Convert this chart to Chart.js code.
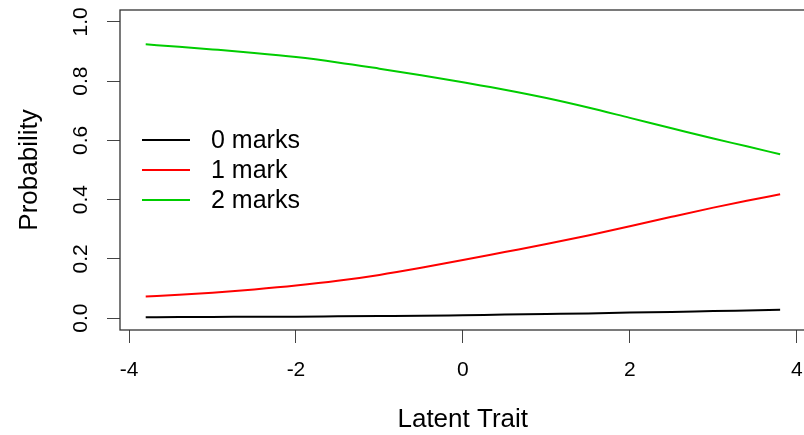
<!DOCTYPE html>
<html>
<head>
  <meta charset="utf-8" />
  <title>Category probability curves</title>
  <style>
    html, body { margin: 0; padding: 0; background: #fff; overflow: hidden; }
    #wrap { width: 808px; height: 435px; }
  </style>
  <script src="https://cdn.jsdelivr.net/npm/chart.js"></script>
</head>
<body>
  <div id="wrap"><canvas id="chart" width="808" height="435"></canvas></div>
  <script>
    // latent trait values where the curves were read
    const theta = [-3.8, -3.4, -3.0, -2.5, -2.0, -1.5, -1.0, -0.5, 0, 0.5, 1.0, 1.5, 2.0, 2.5, 3.0, 3.4, 3.8];
    const marks0 = [0.003, 0.004, 0.004, 0.005, 0.005, 0.006, 0.007, 0.008, 0.010, 0.012, 0.014, 0.016, 0.019, 0.021, 0.024, 0.026, 0.028];
    const marks1 = [0.073, 0.079, 0.086, 0.097, 0.110, 0.126, 0.146, 0.170, 0.196, 0.223, 0.250, 0.279, 0.310, 0.342, 0.373, 0.396, 0.418];
    const marks2 = [0.924, 0.916, 0.907, 0.895, 0.881, 0.863, 0.842, 0.820, 0.796, 0.771, 0.743, 0.711, 0.676, 0.641, 0.606, 0.580, 0.553];
    const seriesNames = ['0 marks', '1 mark', '2 marks'];
    const seriesColors = ['#000000', '#ff0000', '#00cd00'];
    const xTicks = [-4, -2, 0, 2, 4];
    const yTicks = [0, 0.2, 0.4, 0.6, 0.8, 1.0];

    const FONT = "'Liberation Sans', Arial, sans-serif";

    function pts(ys) { return theta.map((t, i) => ({ x: t, y: ys[i] })); }

    // frame around the plot region, like R's box()
    const boxPlugin = {
      id: 'box',
      afterDraw(chart) {
        const a = chart.chartArea, ctx = chart.ctx;
        ctx.save();
        ctx.strokeStyle = '#333';
        ctx.lineWidth = 1.3;
        ctx.strokeRect(a.left, a.top, a.right - a.left, a.bottom - a.top);
        ctx.restore();
      }
    };

    // legend inside the plot, no box
    const insideLegend = {
      id: 'insideLegend',
      afterDraw(chart) {
        const ctx = chart.ctx;
        ctx.save();
        ctx.font = '25px ' + FONT;
        ctx.textBaseline = 'middle';
        ctx.fillStyle = '#000';
        chart.data.datasets.forEach((ds, i) => {
          const y = 140 + i * 30;
          ctx.strokeStyle = ds.borderColor;
          ctx.lineWidth = 2;
          ctx.beginPath();
          ctx.moveTo(142, y);
          ctx.lineTo(190, y);
          ctx.stroke();
          ctx.fillText(ds.label, 211, y + 1);
        });
        ctx.restore();
      }
    };

    const chart = new Chart(document.getElementById('chart'), {
      type: 'line',
      data: {
        datasets: [marks0, marks1, marks2].map((d, i) => ({
          label: seriesNames[i],
          data: pts(d),
          borderColor: seriesColors[i],
          borderWidth: 2,
          pointRadius: 0,
          cubicInterpolationMode: 'monotone'
        }))
      },
      options: {
        responsive: false,
        animation: false,
        layout: { padding: { left: 0, right: 2.5, top: 10, bottom: 0 } },
        plugins: { legend: { display: false }, tooltip: { enabled: false } },
        scales: {
          x: {
            type: 'linear',
            min: -4.108,
            max: 4.104,
            afterBuildTicks: s => { s.ticks = xTicks.map(v => ({ value: v })); },
            afterFit: s => { s.height = 105; s.paddingLeft = 0; s.paddingRight = 0; },
            border: { display: false },
            grid: { drawOnChartArea: false, drawTicks: true, tickLength: 13, color: '#444', lineWidth: 1 },
            ticks: { color: '#000', font: { family: FONT, size: 21 }, padding: 15, maxRotation: 0 },
            title: { display: true, text: 'Latent Trait', color: '#000', font: { family: FONT, size: 26 }, padding: { top: 0, bottom: 0 } }
          },
          y: {
            type: 'linear',
            min: -0.04,
            max: 1.04,
            afterBuildTicks: s => { s.ticks = yTicks.map(v => ({ value: v })); },
            afterFit: s => { s.width = 120; s.paddingTop = 0; s.paddingBottom = 0; },
            border: { display: false },
            grid: { drawOnChartArea: false, drawTicks: true, tickLength: 13, color: '#444', lineWidth: 1 },
            ticks: {
              color: '#000', font: { family: FONT, size: 21 }, padding: 11,
              minRotation: 90, maxRotation: 90, crossAlign: 'center',
              callback: v => v.toFixed(1)
            },
            title: { display: true, text: 'Probability', color: '#000', font: { family: FONT, size: 26 }, padding: { top: 14, bottom: 0 } }
          }
        }
      },
      plugins: [boxPlugin, insideLegend]
    });
  </script>
</body>
</html>
